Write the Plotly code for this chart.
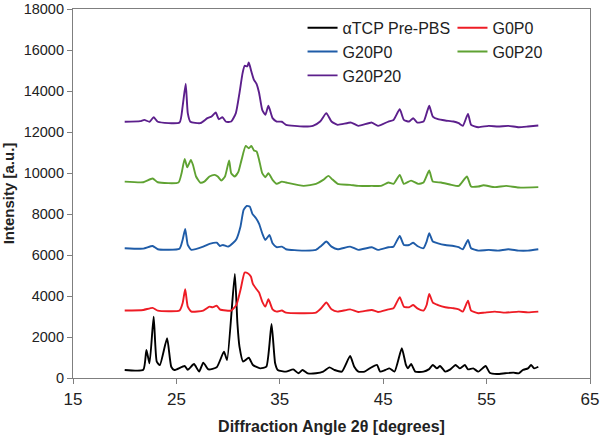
import plotly.graph_objects as go

# ---- data ----
x_tcp = [20.0, 21.8, 22.1, 22.4, 22.8, 23.1, 23.4, 24.1, 24.5, 24.8, 25.8, 26.1, 26.7, 27.2, 27.6, 28.1,
         28.9, 29.6, 29.9, 30.65, 30.9, 31.1, 31.45, 32.0, 32.4, 33.1, 33.7, 34.2, 34.55, 34.8, 35.6,
         36.3, 36.8, 37.2, 37.7, 38.5, 39.2, 39.8, 40.3, 41.0, 41.8, 42.2, 42.6, 43.2, 43.7, 44.4,
         44.7, 45.2, 45.6, 46.1, 46.8, 47.2, 47.4, 47.7, 48.1, 48.9, 49.4, 49.8, 50.2, 50.5, 51.0,
         51.5, 52.0, 52.4, 52.9, 53.2, 53.7, 54.2, 54.9, 55.3, 56.0, 56.8, 57.6, 58.1, 58.5, 59.0,
         59.3, 59.6, 60.0]
y_tcp = [390, 400, 1367, 716, 2994, 800, 630, 1936, 550, 390, 585, 400, 680, 310, 750, 420,
         520, 1285, 880, 5076, 2670, 1530, 800, 990, 635, 470, 550, 2636, 716, 390, 310,
         420, 230, 390, 230, 230, 310, 520, 390, 310, 1074, 550, 310, 310, 470, 635,
         310, 390, 470, 310, 1448, 635, 470, 680, 310, 310, 420, 635, 470, 585, 310,
         420, 635, 470, 635, 420, 470, 310, 585, 260, 195, 230, 260, 230, 390, 470,
         635, 470, 550]

x_g0p0 = [20.0, 21.8, 22.7, 23.2, 25.3, 25.6, 25.85, 26.1, 26.45, 27.6, 28.2, 28.5, 28.9, 29.2, 29.8,
          30.3, 30.8, 31.2, 31.6, 31.9, 32.2, 32.4, 32.75, 33.0, 33.3, 33.6, 33.9, 34.3, 34.7, 35.2,
          35.6, 37.3, 38.5, 39.0, 39.5, 40.0, 40.6, 41.8, 42.6, 43.9, 44.5, 45.5, 46.0, 46.6, 47.0,
          47.5, 47.9, 48.3, 48.9, 49.2, 49.45, 49.8, 50.3, 51.0, 51.8, 52.3, 52.7, 53.2, 53.5, 54.2,
          54.8, 55.8, 56.8, 58.1, 59.0, 60.0]
y_g0p0 = [3290, 3320, 3420, 3290, 3290, 3645, 4330, 3480, 3240, 3290, 3480, 3450, 3530, 3350, 3290,
          3290, 3560, 4300, 5140, 5110, 4950, 4590, 4330, 4165, 3725, 3480, 3840, 3350, 3240, 3290,
          3190, 3160, 3190, 3400, 3680, 3350, 3240, 3350, 3220, 3320, 3220, 3350, 3400, 3940, 3480,
          3450, 3560, 3400, 3290, 3560, 4100, 3680, 3560, 3450, 3400, 3350, 3240, 3775, 3290, 3160,
          3190, 3240, 3190, 3240, 3200, 3240]

x_g20p0 = [20.0, 21.8, 22.7, 23.2, 25.3, 25.6, 25.85, 26.1, 26.45, 27.6, 28.2, 28.9, 29.2, 29.5, 30.0,
           30.5, 30.8, 31.2, 31.5, 31.8, 32.1, 32.35, 32.7, 33.0, 33.3, 33.6, 34.0, 34.3, 34.7, 35.2,
           35.6, 37.3, 38.5, 39.0, 39.5, 40.0, 40.6, 41.8, 42.6, 43.9, 44.5, 45.5, 46.0, 46.6, 47.0,
           47.5, 47.9, 48.3, 48.9, 49.2, 49.45, 49.8, 50.3, 51.0, 51.8, 52.3, 52.7, 53.2, 53.5, 54.2,
           55.2, 56.1, 57.1, 58.1, 59.0, 60.0]
y_g20p0 = [6330, 6310, 6440, 6280, 6310, 6735, 7270, 6490, 6250, 6410, 6540, 6600, 6440, 6490, 6410,
           6600, 6770, 7390, 8200, 8395, 8360, 8005, 7790, 7515, 7060, 6735, 6980, 6570, 6380, 6410,
           6280, 6215, 6250, 6440, 6655, 6410, 6280, 6410, 6250, 6380, 6250, 6380, 6410, 6930, 6490,
           6490, 6600, 6440, 6330, 6655, 7060, 6655, 6570, 6490, 6440, 6380, 6280, 6735, 6330, 6215,
           6250, 6215, 6280, 6215, 6215, 6280]

x_g0p20 = [20.0, 21.8, 22.7, 23.2, 25.2, 25.5, 25.8, 26.05, 26.4, 26.6, 26.9, 27.3, 27.7, 28.2, 28.7,
           29.0, 29.35, 29.7, 30.1, 30.3, 30.65, 31.0, 31.3, 31.7, 32.0, 32.25, 32.5, 32.75, 33.0,
           33.3, 33.6, 33.9, 34.3, 34.7, 35.2, 35.6, 37.3, 38.5, 39.2, 39.7, 40.1, 40.6, 41.8, 42.6,
           43.9, 44.8, 45.5, 46.0, 46.6, 47.0, 47.7, 48.4, 48.9, 49.45, 49.8, 50.6, 51.6, 52.3, 53.1,
           53.5, 54.2, 54.7, 55.8, 56.9, 58.1, 60.0]
y_g0p20 = [9580, 9550, 9730, 9550, 9535, 9990, 10690, 10280, 10640, 10400, 9830, 9535, 9580, 9830, 9910,
           9830, 9630, 9830, 10610, 9990, 9830, 10070, 10640, 11320, 11210, 11320, 11100, 11050, 10640,
           9990, 9795, 9990, 9665, 9470, 9580, 9535, 9370, 9470, 9665, 9860, 9680, 9470, 9420, 9370,
           9370, 9370, 9535, 9470, 9910, 9470, 9630, 9470, 9535, 10120, 9580, 9535, 9420, 9370, 9830,
           9340, 9340, 9400, 9310, 9370, 9290, 9310]

x_g20p20 = [20.0, 21.5, 21.9, 22.4, 22.8, 23.2, 25.3, 25.6, 25.9, 26.1, 26.35, 27.3, 28.0, 28.4, 28.8,
            29.1, 29.45, 29.8, 30.3, 30.75, 31.1, 31.4, 31.6, 31.85, 32.0, 32.25, 32.5, 32.75, 33.0,
            33.3, 33.6, 33.9, 34.3, 34.7, 35.2, 35.6, 37.3, 38.2, 38.9, 39.5, 40.0, 40.6, 41.9, 42.6,
            43.9, 44.5, 45.5, 46.0, 46.6, 47.0, 47.5, 47.9, 48.3, 48.9, 49.2, 49.45, 49.8, 50.3, 51.0,
            51.8, 52.3, 52.7, 53.2, 53.5, 54.2, 55.2, 56.1, 57.1, 58.1, 59.0, 60.0]
y_g20p20 = [12500, 12530, 12590, 12500, 12720, 12500, 12460, 13240, 14350, 12920, 12500, 12430, 12675,
            12755, 12950, 12625, 12720, 12500, 12510, 12920, 13900, 14870, 15230, 15200, 15390, 14950,
            14545, 14350, 13900, 13080, 12840, 13280, 12675, 12510, 12500, 12350, 12270, 12300, 12510,
            12920, 12510, 12350, 12460, 12300, 12460, 12300, 12510, 12590, 13115, 12590, 12510, 12675,
            12460, 12510, 12920, 13280, 12755, 12625, 12560, 12510, 12430, 12300, 12885, 12350, 12235,
            12300, 12270, 12300, 12235, 12270, 12320]

names = ["αTCP Pre-PBS", "G0P0", "G20P0", "G0P20", "G20P20"]
colors = ["#000000", "#ee1c25", "#1f5ca8", "#5fa232", "#5c1f8c"]
legend_of = ["legend", "legend2", "legend", "legend2", "legend"]
xs = [x_tcp, x_g0p0, x_g20p0, x_g0p20, x_g20p20]
ys = [y_tcp, y_g0p0, y_g20p0, y_g0p20, y_g20p20]

fig = go.Figure()
for x, y, n, c, lg in zip(xs, ys, names, colors, legend_of):
    fig.add_trace(go.Scatter(x=x, y=y, mode="lines", name=n, legend=lg,
                             line=dict(color=c, width=1.9, shape="spline", smoothing=0.5)))

axis_common = dict(showgrid=False, zeroline=False, showline=True, linecolor="#7f7f7f",
                   linewidth=1.2, mirror=True, ticks="outside", ticklen=5, tickcolor="#7f7f7f",
                   automargin=False)

fig.update_layout(
    width=600, height=437,
    margin=dict(l=73, r=10, t=9, b=59),
    paper_bgcolor="white", plot_bgcolor="white",
    font=dict(family="Liberation Sans, Arial, sans-serif", color="#222222"),
    xaxis=dict(range=[15, 65], tick0=15, dtick=10,
               title=dict(text="<b>Diffraction Angle 2θ [degrees]</b>", font=dict(size=16), standoff=13),
               tickfont=dict(size=17, color="#222222"), **axis_common),
    yaxis=dict(range=[0, 18000], dtick=2000, tickformat="d",
               title=dict(text="<b>Intensity [a.u.]</b>", font=dict(size=15), standoff=5),
               tickfont=dict(size=14.5, color="#222222"), **axis_common),
    legend=dict(x=0.444, y=0.995, xanchor="left", yanchor="top", bgcolor="rgba(0,0,0,0)",
                font=dict(size=16), tracegroupgap=0, itemwidth=30),
    legend2=dict(x=0.734, y=0.995, xanchor="left", yanchor="top", bgcolor="rgba(0,0,0,0)",
                 font=dict(size=16), tracegroupgap=0, itemwidth=30),
    showlegend=True,
)

fig.write_html("out.html", config={"displayModeBar": False},
               post_script="document.body.style.margin='0';document.body.style.overflow='hidden';")
